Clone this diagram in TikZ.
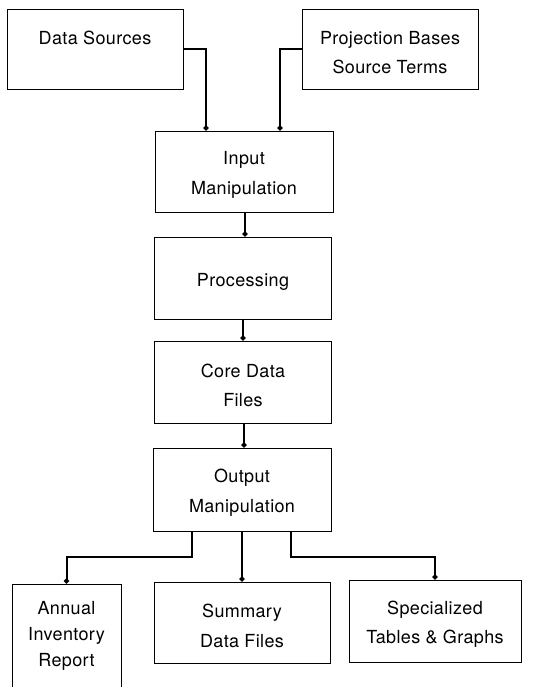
\documentclass[tikz,border=0pt]{standalone}
\usepackage{fontspec}
\setmainfont{TeX Gyre Heros}[LetterSpace=2]
\usetikzlibrary{arrows.meta}
\newcommand{\gap}{\rule{0pt}{20pt}}
\begin{document}
\begin{tikzpicture}
[x=1pt,y=-1pt,
 box/.style={rectangle,draw=black,line width=0.9pt,inner sep=0pt,align=center,font=\fontsize{18}{29.5}\selectfont},
 link/.style={line width=2pt,-{Circle[length=5pt]}}]
	\useasboundingbox (0,0) rectangle (545,687);
	\node[box,minimum width=176pt,minimum height=80pt] (src) at (95,49) {\gap Data Sources\\~};
	\node[box,minimum width=176pt,minimum height=80pt] (proj) at (390,49) {\gap Projection Bases\\Source Terms};
	\node[box,minimum width=178pt,minimum height=81pt] (inp) at (244,171.5) {\gap Input\\Manipulation};
	\node[box,minimum width=177pt,minimum height=82pt] (proc) at (243,278) {\gap Processing};
	\node[box,minimum width=177pt,minimum height=82pt] (core) at (243,382) {\gap Core Data\\Files};
	\node[box,minimum width=178pt,minimum height=83pt] (out) at (242,489.5) {\gap Output\\Manipulation};
	\node[box,minimum width=109pt,minimum height=104pt,font=\fontsize{18}{26}\selectfont] (ann) at (66.5,636) {Annual\\Inventory\\Report};
	\node[box,minimum width=176pt,minimum height=81pt] (summ) at (242,622.5) {\gap Summary\\Data Files};
	\node[box,minimum width=172pt,minimum height=82pt] (spec) at (435,621) {\gap Specialized\\Tables \& Graphs};
	\draw[link] (src.east) -| ([xshift=-38pt]inp.north);
	\draw[link] (proj.west) -| ([xshift=36pt]inp.north);
	\draw[link] ([xshift=1pt]inp.south) -- ([xshift=2pt]proc.north);
	\draw[link] (proc.south) -- (core.north);
	\draw[link] ([xshift=1pt]core.south) -- ([xshift=2pt]out.north);
	\draw[link] ([xshift=-50pt]out.south) -- ++(0,26) -| (ann.north);
	\draw[link] (out.south) -- (summ.north);
	\draw[link] ([xshift=49pt]out.south) -- ++(0,26) -| (spec.north);
\end{tikzpicture}
\end{document}
